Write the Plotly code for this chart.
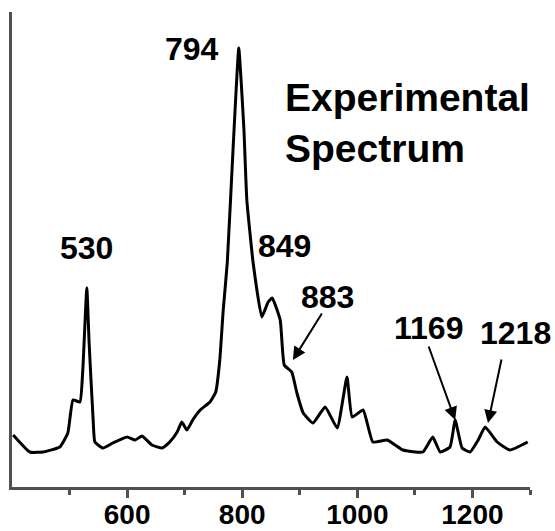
import plotly.graph_objects as go

# Raman spectrum, wavenumber (cm^-1) vs intensity (a.u.)
wavenumber = [402, 431, 454, 483, 497, 506, 518, 523, 530, 534, 541, 544, 558, 575,
              600, 614, 626, 643, 661, 674, 687, 695, 704, 714, 727, 744, 754, 761,
              767, 774, 784, 794, 798, 803, 808, 819, 834, 845, 852, 866, 873, 886,
              895, 906, 923, 944, 965, 982, 991, 1010, 1027, 1052, 1079, 1114, 1131,
              1144, 1161, 1170, 1182, 1196, 1210, 1222, 1243, 1265, 1296]
intensity = [52, 35, 35, 40, 54, 87, 85, 117, 199, 144, 67, 45, 39, 44,
             50, 47, 51, 42, 39, 45, 55, 65, 57, 67, 77, 85, 95, 127,
             177, 224, 337, 439, 407, 357, 287, 224, 170, 185, 189, 167, 122, 115,
             94, 74, 64, 80, 59, 110, 70, 77, 45, 47, 37, 35, 50,
             35, 40, 67, 39, 35, 47, 60, 45, 37, 45]

# Peak labels: text, label centre (x, y)
peak_text = ["794", "530", "849"]
peak_x = [713, 530, 874]
peak_y = [438, 239, 241]

# Arrowed labels: text, label centre, arrow tail, arrow tip
arrow_text = ["883", "1169", "1218"]
arrow_label_x = [949, 1123, 1274]
arrow_label_y = [190, 159, 154]
arrow_tail_x = [940, 1123, 1251]
arrow_tail_y = [175, 142, 129]
arrow_tip_x = [888, 1170, 1227]
arrow_tip_y = [127, 67, 64]

major_ticks = [600, 800, 1000, 1200]
minor_ticks = [500, 700, 900, 1100, 1300]

FONT = "Liberation Sans, Arial, sans-serif"
AXIS_COLOR = "#505050"

fig = go.Figure()
fig.add_trace(go.Scatter(
    x=wavenumber, y=intensity, mode="lines",
    line=dict(color="black", width=3, shape="spline", smoothing=0.4),
    hoverinfo="skip", showlegend=False, cliponaxis=False,
))

annotations = []
for t, x, y in zip(peak_text, peak_x, peak_y):
    annotations.append(dict(x=x, y=y, xref="x", yref="y", text=f"<b>{t}</b>",
                            showarrow=False, font=dict(size=32, color="black", family=FONT)))
for t, lx, ly in zip(arrow_text, arrow_label_x, arrow_label_y):
    annotations.append(dict(x=lx, y=ly, xref="x", yref="y", text=f"<b>{t}</b>",
                            showarrow=False, font=dict(size=32, color="black", family=FONT)))
for tx, ty, hx, hy in zip(arrow_tail_x, arrow_tail_y, arrow_tip_x, arrow_tip_y):
    annotations.append(dict(x=hx, y=hy, ax=tx, ay=ty, xref="x", yref="y",
                            axref="x", ayref="y", text="", showarrow=True,
                            arrowhead=2, arrowsize=1.3, arrowwidth=2,
                            arrowcolor="black", standoff=0))
annotations.append(dict(x=871, y=364, xref="x", yref="y",
                        text="<b>Experimental<br>Spectrum</b>", showarrow=False,
                        xanchor="left", yanchor="middle", align="left",
                        font=dict(size=39, color="black", family=FONT)))

fig.update_layout(
    width=555, height=531,
    margin=dict(l=12, r=25, t=12, b=44, autoexpand=False),
    paper_bgcolor="white", plot_bgcolor="white",
    annotations=annotations,
    xaxis=dict(
        range=[400, 1300], showgrid=False, zeroline=False, automargin=False,
        showline=True, linewidth=3, linecolor=AXIS_COLOR,
        tickmode="array", tickvals=major_ticks,
        ticktext=[f"<b>{v}</b>" for v in major_ticks],
        ticks="outside", ticklen=8, tickwidth=3, tickcolor=AXIS_COLOR,
        ticklabelstandoff=-8,
        tickfont=dict(size=28, color="black", family=FONT),
        minor=dict(tickmode="array", tickvals=minor_ticks, ticks="outside",
                   ticklen=5, tickwidth=3, tickcolor=AXIS_COLOR),
    ),
    yaxis=dict(
        range=[0, 475], showgrid=False, zeroline=False, automargin=False,
        showline=True, linewidth=3, linecolor=AXIS_COLOR,
        showticklabels=False, ticks="",
    ),
)

fig.write_html("out.html")
